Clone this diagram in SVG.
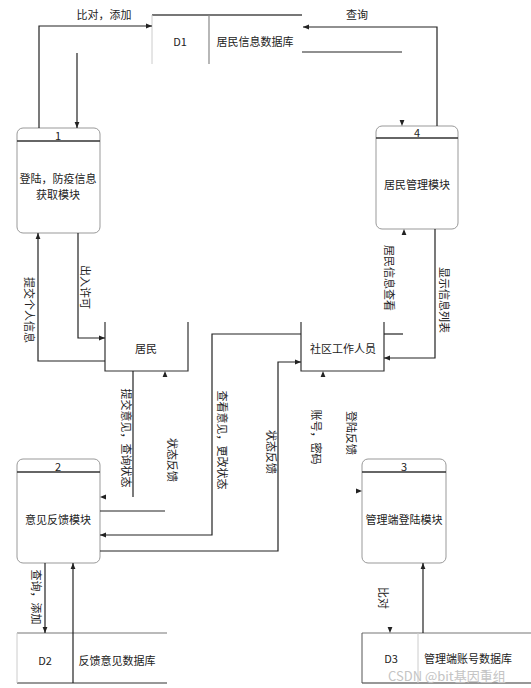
<svg xmlns="http://www.w3.org/2000/svg" width="531" height="688" viewBox="0 0 531 688">
<defs>
<marker id="arr" viewBox="0 0 10 10" refX="10" refY="5" markerUnits="userSpaceOnUse" markerWidth="6" markerHeight="6" orient="auto">
<path d="M0,1 L10,5 L0,9 z" fill="#222"/>
</marker>
<style>
text{font-family:"Noto Sans CJK SC","Noto Sans",sans-serif;font-size:11px;fill:#222;text-anchor:middle;dominant-baseline:central}
.proc{fill:#fff;stroke:#999;stroke-width:1}
.hdr{stroke:#333;stroke-width:1.5}
.ln{fill:none;stroke:#222;stroke-width:1.2}
.ar{marker-end:url(#arr)}
.ghost{fill:none;stroke:none;marker-end:url(#arr)}
.ent{fill:none;stroke:#333;stroke-width:1.2}
.wm{font-size:13px;fill:#c4c4c4;text-anchor:start;dominant-baseline:auto}
</style>
</defs>
<rect width="531" height="688" fill="#fff"/>

<g id="D1">
<line x1="152" y1="15" x2="302" y2="15" stroke="#777" stroke-width="2"/>
<line x1="152" y1="15" x2="152" y2="64" stroke="#ccc" stroke-width="1"/>
<line x1="209" y1="15" x2="209" y2="64" stroke="#888" stroke-width="1.2"/>
<line x1="302" y1="52" x2="402" y2="52" stroke="#222" stroke-width="1.2"/>
<text x="180" y="41">D1</text>
<text x="255" y="41">居民信息数据库</text>
</g>

<g id="P1">
<rect class="proc" x="17" y="128" width="83" height="105" rx="6"/>
<line class="hdr" x1="17" y1="141" x2="100" y2="141"/>
<text x="58" y="135">1</text>
<text x="58" y="178">登陆，防疫信息</text>
<text x="58" y="194">获取模块</text>
</g>

<g id="P4">
<rect class="proc" x="376" y="126" width="82" height="103" rx="6"/>
<line class="hdr" x1="376" y1="138" x2="458" y2="138"/>
<text x="417" y="132">4</text>
<text x="417" y="184">居民管理模块</text>
</g>

<g id="E1">
<path class="ent" d="M105,322 V371 H188 V322"/>
<text x="146" y="348">居民</text>
</g>

<g id="E2">
<path class="ent" d="M301,322 V371 H384 V322"/>
<text x="343" y="348">社区工作人员</text>
</g>

<g id="P2">
<rect class="proc" x="17" y="459" width="83" height="104" rx="6"/>
<line class="hdr" x1="17" y1="472" x2="100" y2="472"/>
<text x="58" y="466">2</text>
<text x="58" y="519">意见反馈模块</text>
</g>

<g id="P3">
<rect class="proc" x="362" y="459" width="84" height="104" rx="6"/>
<line class="hdr" x1="362" y1="472" x2="446" y2="472"/>
<text x="404" y="466">3</text>
<text x="404" y="519">管理端登陆模块</text>
</g>

<g id="D2">
<line x1="17" y1="633" x2="167" y2="633" stroke="#777" stroke-width="1.2"/>
<line x1="17" y1="683" x2="167" y2="683" stroke="#333" stroke-width="1.2"/>
<line x1="17" y1="633" x2="17" y2="683" stroke="#ccc" stroke-width="1"/>
<text x="45" y="660">D2</text>
<text x="117" y="660">反馈意见数据库</text>
</g>

<g id="D3">
<line x1="362" y1="633" x2="531" y2="633" stroke="#777" stroke-width="1.2"/>
<line x1="362" y1="683" x2="531" y2="683" stroke="#333" stroke-width="1.2"/>
<line x1="362" y1="633" x2="362" y2="683" stroke="#555" stroke-width="1"/>
<line x1="418" y1="633" x2="418" y2="683" stroke="#ccc" stroke-width="1"/>
<text x="391" y="658">D3</text>
<text x="468" y="658">管理端账号数据库</text>
</g>

<g id="connectors">
<path class="ln ar" d="M39,128 V26 H152"/>
<path class="ln ar" d="M77,53 V128"/>
<path class="ln ar" d="M437,126 V27 H303"/>
<path class="ghost" d="M402,118 V126"/>
<path class="ln ar" d="M105,361 H38 V233"/>
<path class="ln ar" d="M78,233 V338 H105"/>
<path class="ln" d="M133,371 V497"/>
<path class="ghost" d="M110,497 H100"/>
<path class="ln" d="M100,511 H165"/>
<path class="ghost" d="M165,380 V371"/>
<path class="ln ar" d="M301,334 H212 V535 H100"/>
<path class="ln ar" d="M100,551 H278 V362 H301"/>
<path class="ln" d="M384,334 H403"/>
<path class="ghost" d="M404,240 V229"/>
<path class="ln ar" d="M435,229 V358 H384"/>
<path class="ghost" d="M323,380 V371"/>
<path class="ghost" d="M352,491 H362"/>
<path class="ln ar" d="M45,563 V633"/>
<path class="ln ar" d="M73,683 V563"/>
<path class="ghost" d="M390,625 V633"/>
<path class="ln ar" d="M423,633 V563"/>
<text x="104" y="14">比对，添加</text>
<text x="357" y="14">查询</text>
<text transform="translate(30,310) rotate(90)">提交个人信息</text>
<text transform="translate(86,287) rotate(90)">出入许可</text>
<text transform="translate(390,278) rotate(90)">居民信息查看</text>
<text transform="translate(445,300) rotate(90)">显示信息列表</text>
<text transform="translate(127,438) rotate(90)">提交意见，查询状态</text>
<text transform="translate(173,460) rotate(90)">状态反馈</text>
<text transform="translate(223,440) rotate(90)">查看意见，更改状态</text>
<text transform="translate(272,452) rotate(90)">状态反馈</text>
<text transform="translate(317,437) rotate(90)">账号，密码</text>
<text transform="translate(352,433) rotate(90)">登陆反馈</text>
<text transform="translate(37,597) rotate(90)">查询，添加</text>
<text transform="translate(384,598) rotate(90)">比对</text>
</g>

<text class="wm" x="388" y="681">CSDN @bit基因重组</text>
</svg>
